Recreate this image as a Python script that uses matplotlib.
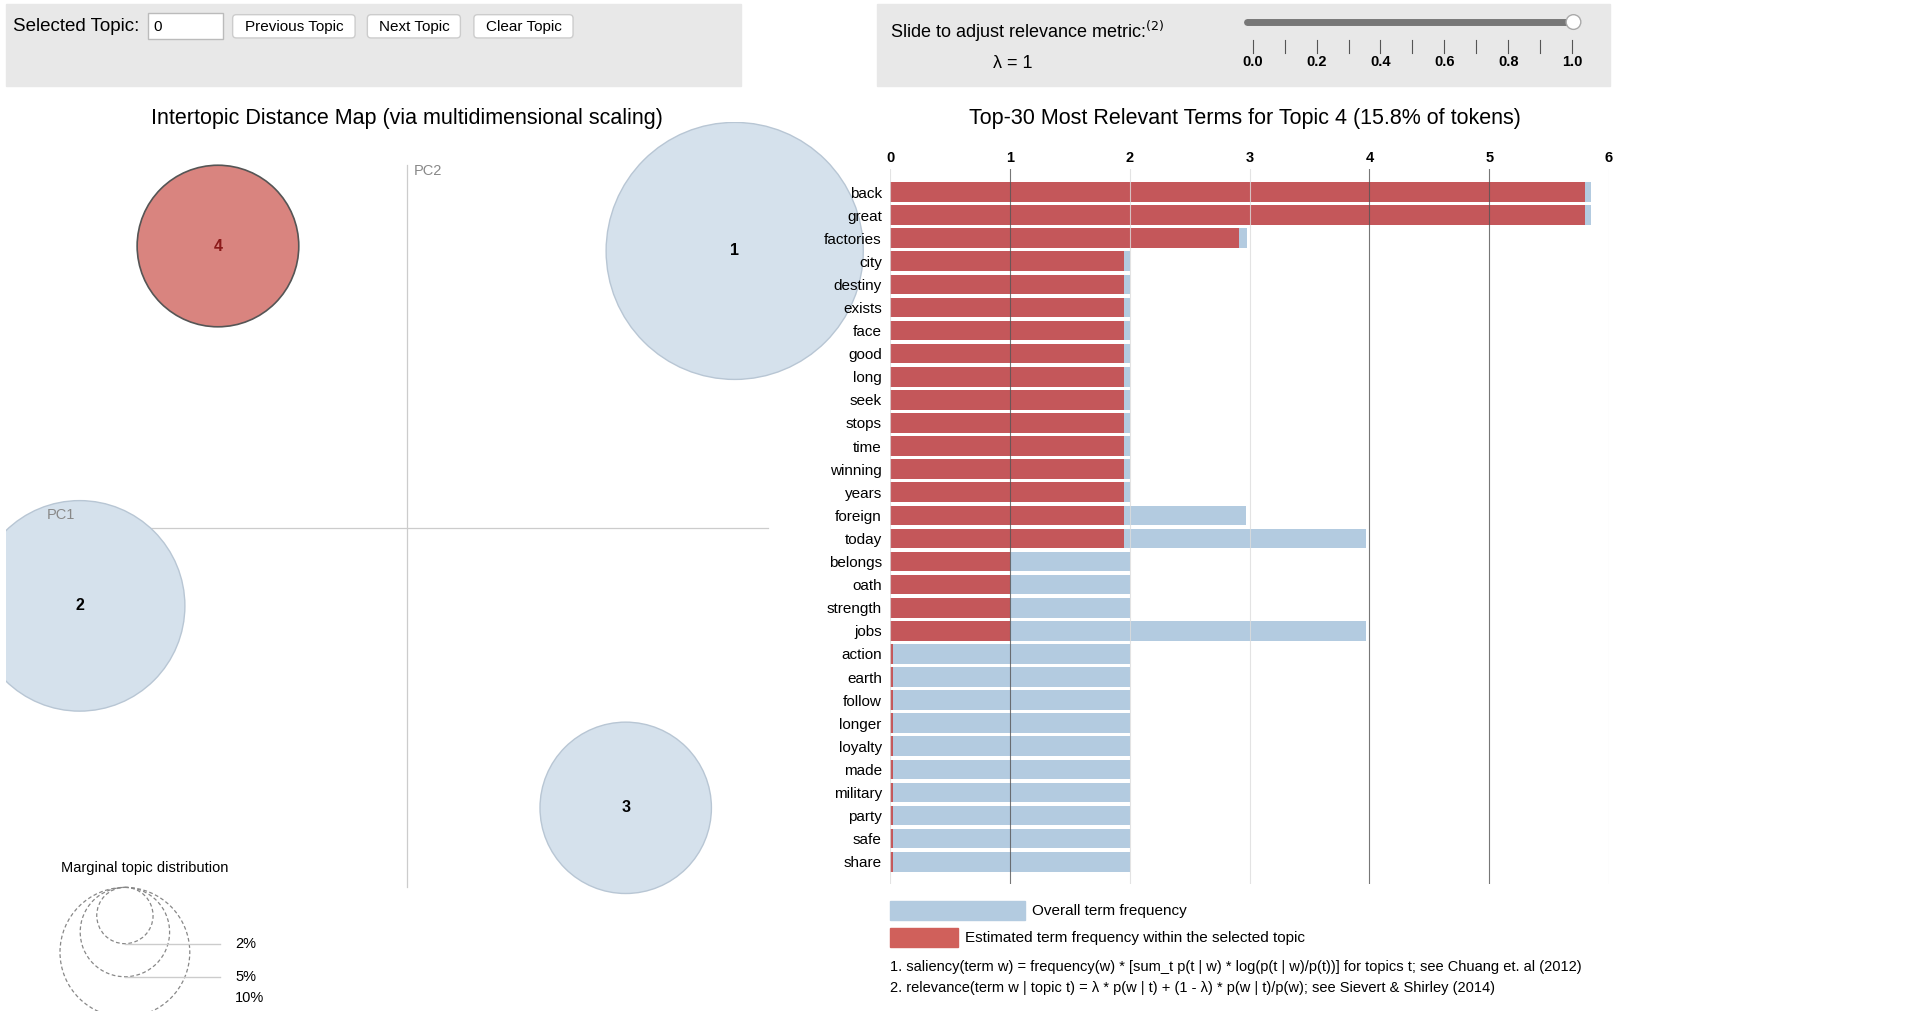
import matplotlib.pyplot as plt
from matplotlib.patches import Circle, Rectangle, FancyBboxPatch

W, H = 1568.0, 826.0  # layout measured on the reference in these units

terms = ["back", "great", "factories", "city", "destiny", "exists", "face", "good", "long",
         "seek", "stops", "time", "winning", "years", "foreign", "today", "belongs", "oath",
         "strength", "jobs", "action", "earth", "follow", "longer", "loyalty", "made",
         "military", "party", "safe", "share"]
overall = [5.85, 5.85, 2.98] + [2.0] * 11 + [2.97, 3.97, 2.0, 2.0, 2.0, 3.97] + [2.0] * 10
topic = [5.8, 5.8, 2.91] + [1.95] * 11 + [1.95, 1.95, 1.0, 1.0, 1.0, 1.0] + [0.02] * 10

topic_ids = ["1", "2", "3", "4"]
topic_x = [268, -267, 179, -154]
topic_y = [226, -64, -229, 230]
topic_r = [105, 86, 70, 66]

BLUE = "#b3cbe0"
RED = "#c4575a"


def fig_rect(x0, y0, x1, y1):
    return [x0 / W, 1 - y1 / H, (x1 - x0) / W, (y1 - y0) / H]


fig = plt.figure(figsize=(19.2, 10.11), dpi=100)
plt.rcParams['font.family'] = ['Liberation Sans', 'DejaVu Sans']

# overlay for UI panels
ui = fig.add_axes([0, 0, 1, 1])
ui.set_xlim(0, W)
ui.set_ylim(H, 0)
ui.axis('off')
ui.add_patch(Rectangle((5, 3), 600, 67, color="#e8e8e8"))
ui.add_patch(Rectangle((716, 3), 599, 67, color="#e8e8e8"))
ui.text(11, 22, "Selected Topic:", fontsize=13.5, va='center')
ui.add_patch(Rectangle((121, 11), 61, 21, facecolor="white", edgecolor="#bbbbbb"))
ui.text(125, 22, "0", fontsize=11, va='center')
for x0, w, lbl in [(190, 100, "Previous Topic"), (300, 76, "Next Topic"), (387, 81, "Clear Topic")]:
    ui.add_patch(FancyBboxPatch((x0, 12), w, 19, boxstyle="round,pad=0,rounding_size=3",
                                facecolor="white", edgecolor="#cccccc"))
    ui.text(x0 + w / 2, 22, lbl, fontsize=11, ha='center', va='center')
ui.text(727, 26, "Slide to adjust relevance metric:$^{(2)}$", fontsize=13, va='center')
ui.text(827, 52, "λ = 1", fontsize=13, ha='center', va='center')
ui.plot([1018, 1285], [18, 18], color="#777777", lw=5, solid_capstyle='round')
ui.add_patch(Circle((1285, 18), 6, facecolor="white", edgecolor="#aaaaaa", zorder=3))
for i in range(11):
    x = 1023 + i * 26.1
    ui.plot([x, x], [33, 43], color="#555555", lw=0.8)
for i, v in enumerate(["0.0", "0.2", "0.4", "0.6", "0.8", "1.0"]):
    ui.text(1023 + i * 52.2, 51, v, fontsize=10.5, fontweight='bold', ha='center', va='center')

ui.text(332, 97, "Intertopic Distance Map (via multidimensional scaling)", fontsize=15.5,
        ha='center', va='center')
ui.text(1017, 97, "Top-30 Most Relevant Terms for Topic 4 (15.8% of tokens)", fontsize=15.5,
        ha='center', va='center')

# marginal topic distribution
ui.text(50, 709, "Marginal topic distribution", fontsize=10.5, va='center')
for r, lbl in [(23, "2%"), (36.5, "5%"), (53, "10%")]:
    cy = 725 + r
    ui.add_patch(Circle((102, cy), r, fill=False, ls=(0, (3, 2)), edgecolor="#888888", lw=0.9))
    ui.plot([102, 180], [cy + r, cy + r], color="#cccccc", lw=1)
    ui.text(192, min(cy + r, 815), lbl, fontsize=10.5, va='center')

# legend + notes
ui.add_patch(Rectangle((727, 736), 110, 16, color=BLUE))
ui.text(843, 744, "Overall term frequency", fontsize=11, va='center')
ui.add_patch(Rectangle((727, 758), 55, 16, color="#d0605b"))
ui.text(788, 766, "Estimated term frequency within the selected topic", fontsize=11, va='center')
ui.text(727, 790, "1. saliency(term w) = frequency(w) * [sum_t p(t | w) * log(p(t | w)/p(t))] for topics t; see Chuang et. al (2012)",
        fontsize=10.5, va='center')
ui.text(727, 807, "2. relevance(term w | topic t) = λ * p(w | t) + (1 - λ) * p(w | t)/p(w); see Sievert & Shirley (2014)",
        fontsize=10.5, va='center')

# intertopic map
mp = fig.add_axes(fig_rect(5, 100, 720, 740))
mp.set_xlim(-327, 388)
mp.set_ylim(-309, 331)
mp.axis('off')
mp.patch.set_alpha(0)
mp.plot([-294, 295], [0, 0], color="#cccccc", lw=0.9)
mp.plot([0, 0], [-294, 296], color="#cccccc", lw=0.9)
mp.text(6, 291, "PC2", fontsize=10.5, color="#888888", va='center')
mp.text(-294, 10, "PC1", fontsize=10.5, color="#888888", va='center')
for tid, x, y, r in zip(topic_ids, topic_x, topic_y, topic_r):
    sel = tid == "4"
    mp.add_patch(Circle((x, y), r, facecolor="#d9847f" if sel else "#d5e1ec",
                        edgecolor="#555555" if sel else "#b8c6d4", lw=1.2 if sel else 1, zorder=2))
    mp.text(x, y, tid, fontsize=11.5, fontweight='bold', ha='center', va='center',
            color="#8b1a1a" if sel else "black", zorder=3)

# bar chart
bx = fig.add_axes(fig_rect(727, 138, 1314, 722))
n = len(terms)
ypos = list(range(n))
bx.barh(ypos, overall, height=0.85, color=BLUE, zorder=1)
bx.barh(ypos, topic, height=0.85, color=RED, zorder=2)
bx.set_xlim(0, 6)
bx.set_ylim(n - 0.05, -1.0)
bx.set_yticks(ypos)
bx.set_yticklabels(terms, fontsize=11)
bx.tick_params(axis='y', length=0, pad=6)
bx.xaxis.tick_top()
bx.set_xticks(range(7))
bx.tick_params(axis='x', length=0, labelsize=10.5, pad=3)
for lbl in bx.get_xticklabels():
    lbl.set_fontweight('bold')
for x in range(7):
    bx.axvline(x, color="#555555" if x in (1, 4, 5) else "#dddddd", lw=0.8, zorder=3, alpha=0.8)
for s in bx.spines.values():
    s.set_visible(False)

fig.savefig("out.png", dpi=100)
